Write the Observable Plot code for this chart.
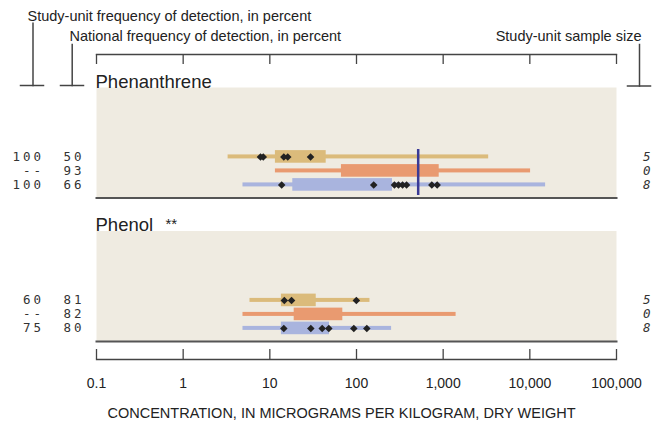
<!DOCTYPE html>
<html>
<head>
<meta charset="utf-8">
<script src="https://cdn.jsdelivr.net/npm/d3@7"></script>
<script src="https://cdn.jsdelivr.net/npm/@observablehq/plot@0.6"></script>
<style>
  body { margin: 0; background: #fff; }
  g[font-family^="DejaVu Sans Mono"] text { letter-spacing: 3px; }
</style>
</head>
<body>
<div id="chart"></div>
<script>
// Compounds (one panel each) and the three land-use groups (one row each)
const compounds = ["Phenanthrene", "Phenol"];
const compoundNotes = ["", "**"];
const landUse = ["Agricultural", "Urban", "Mixed"];
const landUseColors = ["#dbbb7b", "#e99a70", "#a9b4de"];

// National distribution per compound × group: full range (thin bar) and interquartile range (thick bar)
const rangeLow  = [[3.3, 11.6, 4.9], [5.9, 4.9, 4.9]];
const rangeHigh = [[3350, 10200, 15200], [143, 1410, 254]];
const quartile1 = [[11.6, 67, 18.4], [13.6, 19.1, 13.6]];
const quartile3 = [[44.7, 900, 260], [34.3, 69.5, 48.8]];

// Frequencies of detection (percent) and study-unit sample sizes
const studyFreq    = [["100", "--", "100"], ["60", "--", "75"]];
const nationalFreq = [[50, 93, 66], [81, 82, 80]];
const sampleSize   = [[5, 0, 8], [5, 0, 8]];

// Study-unit detections, micrograms per kilogram
const detections = [
  [[7.8, 8.4, 14.5, 16.1, 29.5], [], [13.7, 158, 274, 305, 340, 378, 740, 853]],
  [[14.7, 17.8, 99.6], [], [14.5, 29.7, 40.2, 47.9, 93.1, 131.5]]
];

// Sediment-quality guideline (probable effect level)
const guidelineCompounds = ["Phenanthrene"];
const guidelineValues = [515];

// Concentration axis
const xTicks = [0.1, 1, 10, 100, 1000, 10000, 100000];
const xTickLabels = ["0.1", "1", "10", "100", "1,000", "10,000", "100,000"];
const xTitle = "CONCENTRATION, IN MICROGRAMS PER KILOGRAM, DRY WEIGHT";

// Column headers
const headStudy = "Study-unit frequency of detection, in percent";
const headNational = "National frequency of detection, in percent";
const headSize = "Study-unit sample size";

// ---- tables built from the arrays above ----
const rows = [];
compounds.forEach((c, i) => landUse.forEach((g, j) => rows.push({
  compound: c, group: g,
  lo: rangeLow[i][j], hi: rangeHigh[i][j], q1: quartile1[i][j], q3: quartile3[i][j],
  study: studyFreq[i][j], national: nationalFreq[i][j], n: sampleSize[i][j]
})));
const points = [];
compounds.forEach((c, i) => landUse.forEach((g, j) =>
  detections[i][j].forEach(v => points.push({compound: c, group: g, value: v}))));
const guidelines = guidelineCompounds.map((c, i) => ({compound: c, value: guidelineValues[i]}));
const titles = compounds.map((c, i) => ({compound: c, note: compoundNotes[i]}));
const ticks = xTicks.map((v, i) => ({value: v, label: xTickLabels[i]}));

// ---- layout ----
const width = 664, height = 428;
const marginTop = 54, marginBottom = 87, marginLeft = 96, marginRight = 48;
const facetH = (height - marginTop - marginBottom) / compounds.length;

const sans = "Liberation Sans, Arial, Helvetica, sans-serif";
const mono = "DejaVu Sans Mono, Liberation Mono, monospace";
const ink = "#444";

const chart = Plot.plot({
  width, height, marginTop, marginBottom, marginLeft, marginRight,
  style: {fontFamily: sans, background: "#fff", color: "#222"},
  x: {type: "log", domain: [xTicks[0], xTicks[xTicks.length - 1]], axis: null},
  y: {domain: landUse, paddingInner: 0, paddingOuter: 3.625, align: 0.94, round: false, axis: null},
  fy: {domain: compounds, padding: 0, round: false, axis: null},
  color: {domain: landUse, range: landUseColors},
  marks: [
    // panel background and bottom rule
    Plot.frame({fill: "#efebe1", insetTop: 33}),
    Plot.frame({anchor: "bottom", stroke: "#555", strokeWidth: 2}),

    // national ranges
    Plot.barX(rows, {x1: "lo", x2: "hi", y: "group", fy: "compound", fill: "group", insetTop: 5, insetBottom: 5}),
    Plot.barX(rows, {x1: "q1", x2: "q3", y: "group", fy: "compound", fill: "group", insetTop: 0.7, insetBottom: 0.7}),

    // guideline
    Plot.ruleX(guidelines, {x: "value", fy: "compound", stroke: "#3a3a96", strokeWidth: 2.5, insetTop: 95, insetBottom: 2.5}),

    // study-unit detections
    Plot.dot(points, {x: "value", y: "group", fy: "compound", symbol: "diamond2", r: 3.4, fill: "#222", stroke: "none"}),

    // frequency columns
    Plot.text(rows, {y: "group", fy: "compound", text: "study", frameAnchor: "left", textAnchor: "end", dx: -52.5,
      fontFamily: mono, fontSize: 12.5, fill: "#333"}),
    Plot.text(rows, {y: "group", fy: "compound", text: "national", frameAnchor: "left", textAnchor: "end", dx: -12,
      fontFamily: mono, fontSize: 12.5, fill: "#333"}),
    Plot.text(rows, {y: "group", fy: "compound", text: "n", frameAnchor: "right", textAnchor: "end", dx: 37,
      fontFamily: mono, fontSize: 12.5, fontStyle: "italic", fill: "#333"}),

    // panel titles
    Plot.text(titles, {fy: "compound", text: "compound", frameAnchor: "top-left", textAnchor: "start", dx: -1, dy: 20,
      fontSize: 18.5, fill: "#222"}),
    Plot.text(titles, {fy: "compound", text: "note", frameAnchor: "top-left", textAnchor: "start", dx: 69, dy: 20,
      fontSize: 15, fill: "#222"}),

    // top axis: line with inward ticks
    Plot.frame({anchor: "top", facetAnchor: "top", stroke: ink, strokeWidth: 1.3}),
    Plot.tickX(ticks, {x: "value", facetAnchor: "top", insetBottom: facetH - 10, stroke: ink, strokeWidth: 1.3}),

    // bottom axis: line with inward ticks, labels, title
    Plot.frame({anchor: "bottom", facetAnchor: "bottom", insetBottom: -18, stroke: ink, strokeWidth: 1.3}),
    Plot.tickX(ticks, {x: "value", facetAnchor: "bottom", insetTop: facetH + 8, insetBottom: -18, stroke: ink, strokeWidth: 1.3}),
    Plot.text(ticks, {x: "value", text: "label", facetAnchor: "bottom", frameAnchor: "bottom", dy: 46, fontSize: 14, fill: "#222"}),
    Plot.text([xTitle], {text: d => d, facetAnchor: "bottom", frameAnchor: "bottom", dx: -15, dy: 76, fontSize: 14.5, fill: "#222"}),

    // column headers
    Plot.text([headStudy], {text: d => d, facetAnchor: "top", frameAnchor: "top-left", textAnchor: "start", dx: -69, dy: -44, fontSize: 14.5, fill: "#222"}),
    Plot.text([headNational], {text: d => d, facetAnchor: "top", frameAnchor: "top-left", textAnchor: "start", dx: -27, dy: -24, fontSize: 14.5, fill: "#222"}),
    Plot.text([headSize], {text: d => d, facetAnchor: "top", frameAnchor: "top-right", textAnchor: "end", dx: 25, dy: -24, fontSize: 14.5, fill: "#222"}),

    // header brackets
    Plot.frame({anchor: "left", facetAnchor: "top", insetLeft: -63.5, insetTop: -31.3, insetBottom: facetH - 31, stroke: ink, strokeWidth: 1.5}),
    Plot.frame({anchor: "top", facetAnchor: "top", insetTop: 31, insetLeft: -76, insetRight: 573, stroke: ink, strokeWidth: 1.5}),
    Plot.frame({anchor: "left", facetAnchor: "top", insetLeft: -24.3, insetTop: -10, insetBottom: facetH - 31, stroke: ink, strokeWidth: 1.5}),
    Plot.frame({anchor: "top", facetAnchor: "top", insetTop: 31, insetLeft: -36, insetRight: 533, stroke: ink, strokeWidth: 1.5}),
    Plot.frame({anchor: "right", facetAnchor: "top", insetRight: -23, insetTop: -10, insetBottom: facetH - 31.5, stroke: ink, strokeWidth: 1.5}),
    Plot.frame({anchor: "top", facetAnchor: "top", insetTop: 31.5, insetLeft: 531, insetRight: -34, stroke: ink, strokeWidth: 1.5})
  ]
});

document.getElementById("chart").appendChild(chart);
</script>
</body>
</html>
